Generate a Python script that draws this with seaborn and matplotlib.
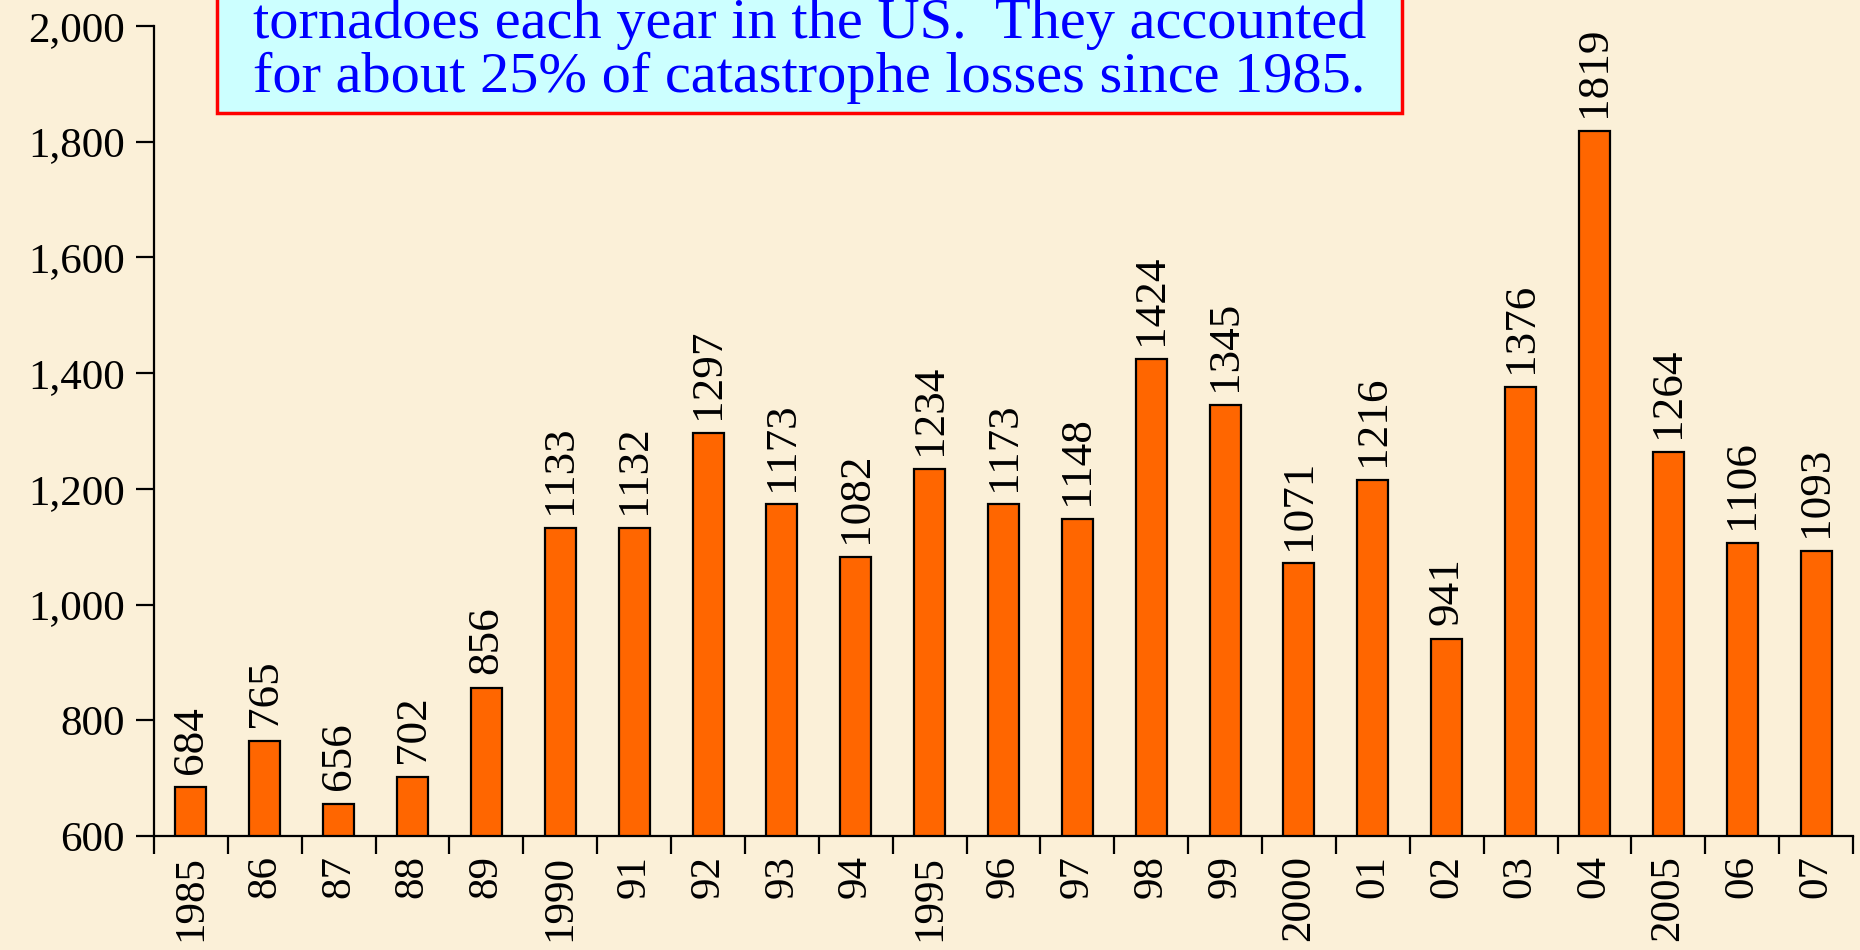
import matplotlib
matplotlib.use("Agg")
import matplotlib.pyplot as plt
import matplotlib.patches as mpatches
import seaborn as sns
import pandas as pd

years = ["1985", "86", "87", "88", "89", "1990", "91", "92", "93", "94", "1995",
         "96", "97", "98", "99", "2000", "01", "02", "03", "04", "2005", "06", "07"]
counts = [684, 765, 656, 702, 856, 1133, 1132, 1297, 1173, 1082, 1234,
          1173, 1148, 1424, 1345, 1071, 1216, 941, 1376, 1819, 1264, 1106, 1093]
yticks = [600, 800, 1000, 1200, 1400, 1600, 1800, 2000]
ytick_labels = ["600", "800", "1,000", "1,200", "1,400", "1,600", "1,800", "2,000"]
box_lines = ["tornadoes each year in the US.  They accounted",
             "for about 25% of catastrophe losses since 1985."]

sns.set_theme(style="white")
plt.rcParams['font.family'] = ['Liberation Serif', 'DejaVu Serif']

BG = '#FBF0D8'
W, H = 1860, 950
fig = plt.figure(figsize=(W / 100, H / 100), dpi=100, facecolor=BG)
ax = fig.add_axes([154 / W, 1 - 836 / H, (1853 - 154) / W, (836 - 26) / H])
ax.set_facecolor('none')

df = pd.DataFrame({"year": years, "count": counts})
sns.barplot(data=df, x="year", y="count", color='#FF6600', saturation=1,
            width=0.42, edgecolor='black', linewidth=1.6, ax=ax)

for c in ax.containers:
    ax.bar_label(c, rotation=90, padding=10, fontsize=32.5, color='black')

ax.set_ylim(600, 2000)
ax.set_xlim(-0.5, len(years) - 0.5)
ax.set_yticks(yticks)
ax.set_yticklabels(ytick_labels, fontsize=31, color='black')
ax.set_xticks(range(len(years)))
ax.set_xticklabels(years, rotation=90, fontsize=31, color='black')
ax.set_xticks([i + 0.5 for i in range(-1, len(years))], minor=True)
ax.tick_params(axis='x', which='major', bottom=True, length=0, pad=14)
ax.tick_params(axis='x', which='minor', bottom=True, length=13, width=1.6,
               direction='out', color='black')
ax.tick_params(axis='y', which='major', left=True, length=13, width=1.6,
               direction='out', color='black', pad=8)
ax.set_xlabel("")
ax.set_ylabel("")
for s in ['top', 'right']:
    ax.spines[s].set_visible(False)
for s in ['left', 'bottom']:
    ax.spines[s].set_color('black')
    ax.spines[s].set_linewidth(1.6)

rect = mpatches.Rectangle((217 / W, 1 - 113 / H), (1402 - 217) / W, 0.2,
                          transform=fig.transFigure, facecolor='#CCFFFF',
                          edgecolor='#FF0000', linewidth=2.5, zorder=5)
fig.patches.append(rect)
fig.text(253 / W, 1 - 38 / H, box_lines[0], fontsize=42, color='#0000FF',
         va='baseline', ha='left', zorder=6)
fig.text(253 / W, 1 - 92 / H, box_lines[1], fontsize=42, color='#0000FF',
         va='baseline', ha='left', zorder=6)

fig.savefig("out.png", dpi=100, facecolor=BG)
